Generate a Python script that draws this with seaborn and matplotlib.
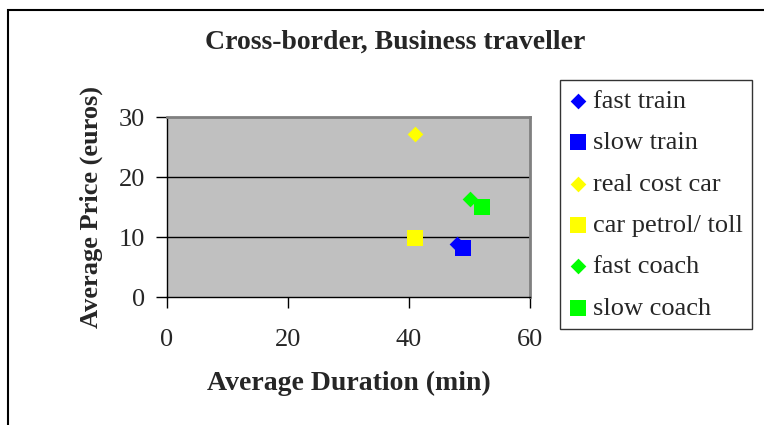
import matplotlib
matplotlib.use("Agg")
import matplotlib.pyplot as plt
import seaborn as sns
from matplotlib.patches import Rectangle

sns.set_theme(style="white")
plt.rcParams['font.family'] = ['Liberation Serif', 'DejaVu Serif']

series = ["fast train", "slow train", "real cost car", "car petrol/ toll", "fast coach", "slow coach"]
duration = [48.0, 49.0, 41.0, 41.0, 50.0, 52.0]
price = [8.8, 8.2, 27.1, 9.9, 16.3, 15.0]
colors = ["#0000FF", "#0000FF", "#FFFF00", "#FFFF00", "#00FF00", "#00FF00"]
markers = ["D", "s", "D", "s", "D", "s"]

fig = plt.figure(figsize=(7.64, 4.25), dpi=100)
fig.patches.append(Rectangle((8 / 764, -0.1), 1.1, 1 - 10 / 425 + 0.1,
                             transform=fig.transFigure, fill=False,
                             edgecolor="black", linewidth=1.5))

ax = fig.add_axes([167 / 764, 1 - 297 / 425, 363 / 764, 180 / 425])
ax.set_facecolor("#C0C0C0")

for name, x, y, c, m in zip(series, duration, price, colors, markers):
    size = 64 if m == "D" else 121
    sns.scatterplot(x=[x], y=[y], ax=ax, color=c, marker=m, s=size,
                    linewidth=0, label=name, zorder=3)

ax.set_xlim(0, 60)
ax.set_ylim(0, 30)
ax.set_xticks([0, 20, 40, 60])
ax.set_yticks([0, 10, 20, 30])
for yv in [10, 20]:
    ax.axhline(yv, color="black", linewidth=1.0, zorder=1)

for side in ["top", "right"]:
    ax.spines[side].set_color("#808080")
    ax.spines[side].set_linewidth(2.0)
for side in ["left", "bottom"]:
    ax.spines[side].set_color("black")
    ax.spines[side].set_linewidth(1.0)

ax.tick_params(axis="both", which="major", direction="out", length=8, width=1,
               color="black", labelsize=19, pad=8, left=True, bottom=True)
ax.tick_params(axis="x", pad=15)

ax.set_xlabel("Average Duration (min)", fontsize=20, fontweight="bold", labelpad=14)
ax.set_ylabel("Average Price (euros)", fontsize=19, fontweight="bold", labelpad=11)

fig.text(395 / 764, 1 - 42 / 425, "Cross-border, Business traveller",
         fontsize=20, fontweight="bold", ha="center", va="center")

leg = ax.legend(loc="upper left", bbox_to_anchor=(560 / 764, 1 - 80 / 425),
                bbox_transform=fig.transFigure, frameon=True, fancybox=False,
                fontsize=19, handletextpad=0.2, handlelength=0.7,
                labelspacing=0.68, borderpad=0.35, borderaxespad=0)
leg.get_frame().set_edgecolor("black")
leg.get_frame().set_linewidth(1.0)

fig.savefig("out.png", dpi=100)
